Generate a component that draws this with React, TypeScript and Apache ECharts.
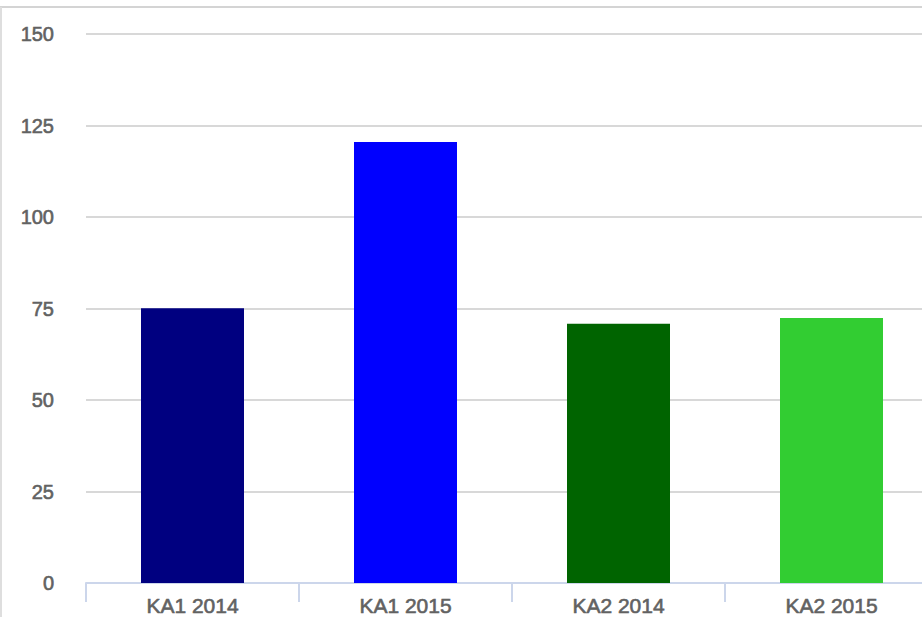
import React, { useEffect, useRef } from "react";
import * as echarts from "echarts";

const categories = ["KA1 2014", "KA1 2015", "KA2 2014", "KA2 2015"];
const values = [75.1, 120.5, 70.8, 72.4];
const barColors = ["#000080", "#0000ff", "#006400", "#32cd32"];
const yTicks = { min: 0, max: 150, interval: 25 };

export default function App() {
  const ref = useRef<HTMLDivElement>(null);
  useEffect(() => {
    const chart = echarts.init(ref.current!, null, { renderer: "svg" });
    const labelStyle = {
      color: "#626262",
      fontFamily: "Liberation Sans, Arial, sans-serif",
      textBorderColor: "#626262",
      textBorderWidth: 0.6,
    };
    chart.setOption({
      animation: false,
      backgroundColor: "#ffffff",
      grid: {
        left: 86,
        width: 852,
        top: 34,
        bottom: 34,
        containLabel: false,
        outerBoundsMode: "none",
      },
      xAxis: {
        type: "category",
        data: categories,
        boundaryGap: true,
        axisLine: { show: true, lineStyle: { color: "#ccd6eb", width: 2 } },
        axisTick: { show: true, length: 19, lineStyle: { color: "#ccd6eb", width: 2 } },
        axisLabel: { ...labelStyle, fontSize: 21, margin: 12 },
        splitLine: { show: false },
      },
      yAxis: {
        type: "value",
        min: yTicks.min,
        max: yTicks.max,
        interval: yTicks.interval,
        axisLine: { show: false },
        axisTick: { show: false },
        axisLabel: { ...labelStyle, fontSize: 20, margin: 32, padding: [5, 0, 0, 0] },
        splitLine: { show: true, lineStyle: { color: "#d8d8d8", width: 2 } },
      },
      series: [
        {
          type: "bar",
          barWidth: 103,
          data: values.map((v, i) => ({ value: v, itemStyle: { color: barColors[i] } })),
        },
      ],
      graphic: [
        { type: "line", shape: { x1: 0, y1: 7, x2: 922, y2: 7 }, style: { stroke: "#d4d4d4", lineWidth: 2 }, z: 100 },
        { type: "line", shape: { x1: 1, y1: 7, x2: 1, y2: 617 }, style: { stroke: "#dedede", lineWidth: 2 }, z: 100 },
      ],
    });
    return () => chart.dispose();
  }, []);
  return (
    <div
      ref={ref}
      style={{ position: "absolute", left: 0, top: 0, width: 922, height: 617 }}
    />
  );
}
